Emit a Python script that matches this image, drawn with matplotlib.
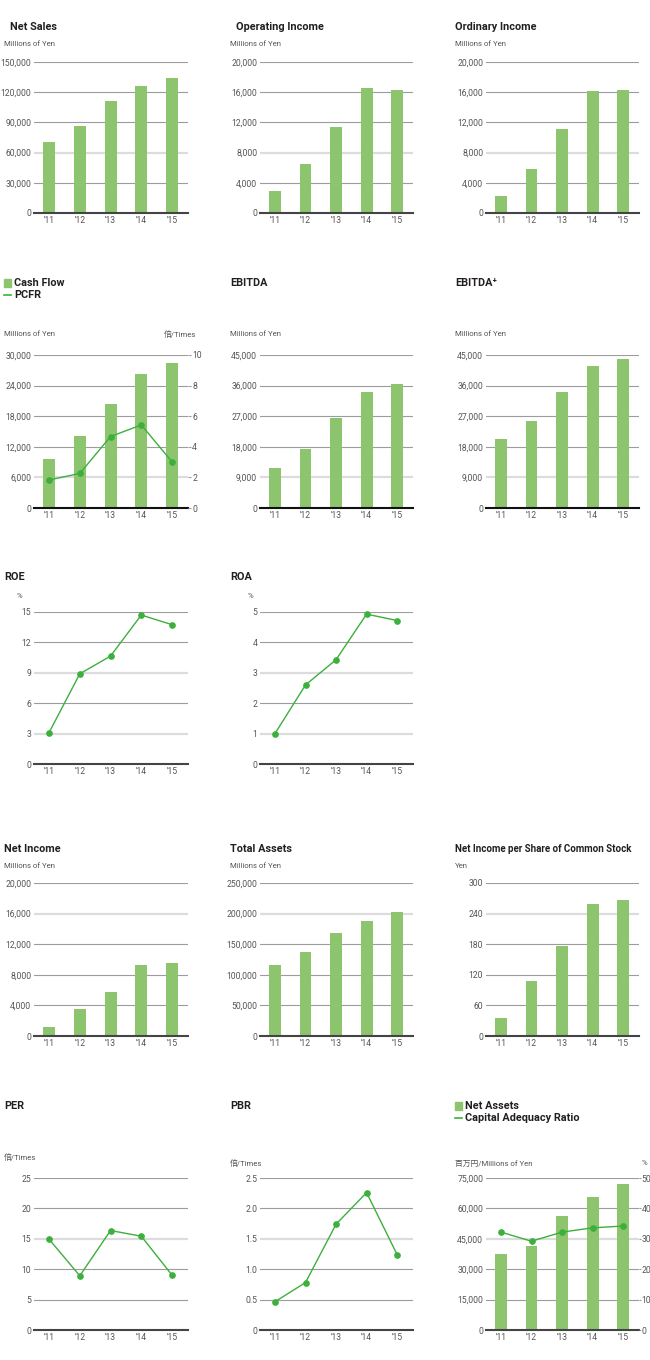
import matplotlib
matplotlib.use("Agg")
import matplotlib.pyplot as plt
from matplotlib.patches import Rectangle
from matplotlib.lines import Line2D

plt.rcParams['font.family'] = ['Roboto', 'Noto Sans CJK JP', 'DejaVu Sans']

# data
years = ["'11", "'12", "'13", "'14", "'15"]

net_sales = [71000, 86300, 111400, 126200, 134200]
operating_income = [2900, 6500, 11400, 16500, 16350]
ordinary_income = [2240, 5880, 11140, 16180, 16230]
cash_flow = [9600, 14150, 20350, 26300, 28500]
pcfr = [1.83, 2.26, 4.67, 5.43, 3.02]
ebitda = [11850, 17500, 26600, 34250, 36500]
ebitda_plus = [20150, 25650, 34250, 41850, 43800]
roe = [3.1, 8.9, 10.65, 14.7, 13.75]
roa = [1.0, 2.6, 3.43, 4.93, 4.72]
net_income = [1140, 3540, 5810, 9300, 9520]
total_assets = [115200, 137000, 168700, 188300, 203000]
eps = [34.7, 107.4, 175.5, 258.1, 266.6]
per = [14.93, 8.92, 16.36, 15.43, 9.03]
pbr = [0.465, 0.78, 1.74, 2.26, 1.24]
net_assets = [37400, 41350, 56100, 65500, 71900]
capital_ratio = [32.2, 29.2, 32.2, 33.6, 34.2]

BAR = '#8cc56d'
LINE = '#3daf3d'
GRID = '#9c9c9c'
LIGHT = '#dcdcdc'
TXT = '#555555'
DARK = '#231f20'
TICK_FS = 6.2
TITLE_FS = 7.8

W, H = 650, 1360
fig = plt.figure(figsize=(6.5, 13.6), dpi=100)

cols = [(34, 188), (260, 413), (486, 639)]
rows = [(62, 213), (355, 508), (612, 764), (883, 1036), (1178, 1330)]


def fmt(v, dec):
    if dec:
        return f"{v:.1f}"
    return f"{int(v):,}"


def make_ax(col, row, ticks, light, dec=False, base='#444444'):
    x0, x1 = cols[col]
    t, b = rows[row]
    ax = fig.add_axes([x0 / W, 1 - b / H, (x1 - x0) / W, (b - t) / H])
    ax.set_xlim(-0.49, 4.52)
    ax.set_ylim(0, ticks[-1])
    for v in ticks[1:]:
        if v in light:
            ax.axhline(v, color=LIGHT, lw=1.6, zorder=0)
        else:
            ax.axhline(v, color=GRID, lw=0.8, zorder=0)
    for s in ['top', 'left', 'right']:
        ax.spines[s].set_visible(False)
    ax.spines['bottom'].set_color(base)
    ax.spines['bottom'].set_linewidth(1.5)
    ax.set_yticks(ticks)
    ax.set_yticklabels([fmt(v, dec) for v in ticks])
    ax.set_xticks(range(len(years)))
    ax.set_xticklabels(years)
    ax.tick_params(axis='y', length=0, pad=2, labelsize=TICK_FS, labelcolor=TXT)
    ax.tick_params(axis='x', length=0, pad=2.5, labelsize=TICK_FS, labelcolor=TXT)
    ax.set_facecolor('none')
    return ax


def right_ax(ax, top, ticks):
    ax2 = ax.twinx()
    ax2.set_xlim(-0.49, 4.52)
    ax2.set_ylim(0, top)
    ax2.set_yticks(ticks)
    ax2.tick_params(axis='y', length=2, width=0.8, color=GRID, pad=1,
                    labelsize=TICK_FS, labelcolor=TXT)
    for s in ['top', 'left', 'right', 'bottom']:
        ax2.spines[s].set_visible(False)
    return ax2


def bars(ax, vals):
    ax.bar(range(len(vals)), vals, width=0.39, color=BAR, zorder=2)


def line(ax, vals):
    ax.plot(range(len(vals)), vals, color=LINE, lw=1.0, marker='o',
            markersize=3.8, zorder=3, clip_on=False)


def ftext(x, y, s, size=5.6, bold=False, ha='left', color=None):
    fig.text(x / W, 1 - y / H, s, fontsize=size,
             fontweight='bold' if bold else 'normal', ha=ha, va='center',
             color=color or (DARK if bold else TXT))


def legend(x, y, label1, label2):
    fig.patches.append(Rectangle((x / W, 1 - (y + 4) / H), 7 / W, 8 / H,
                                 transform=fig.transFigure, color=BAR))
    fig.lines.append(Line2D([x / W, (x + 7) / W], [1 - (y + 12) / H] * 2,
                            transform=fig.transFigure, color=LINE, lw=1.2))
    ftext(x + 10, y, label1, size=TITLE_FS, bold=True)
    ftext(x + 10, y + 12, label2, size=TITLE_FS, bold=True)


# row 1
ax = make_ax(0, 0, [0, 30000, 60000, 90000, 120000, 150000], [60000])
bars(ax, net_sales)
ftext(10, 27, 'Net Sales', size=TITLE_FS, bold=True)
ftext(4, 44, 'Millions of Yen')

ax = make_ax(1, 0, [0, 4000, 8000, 12000, 16000, 20000], [8000])
bars(ax, operating_income)
ftext(236, 27, 'Operating Income', size=TITLE_FS, bold=True)
ftext(230, 44, 'Millions of Yen')

ax = make_ax(2, 0, [0, 4000, 8000, 12000, 16000, 20000], [8000])
bars(ax, ordinary_income)
ftext(455, 27, 'Ordinary Income', size=TITLE_FS, bold=True)
ftext(455, 44, 'Millions of Yen')

# row 2
ax = make_ax(0, 1, [0, 6000, 12000, 18000, 24000, 30000], [6000], base='#111111')
bars(ax, cash_flow)
ax2 = right_ax(ax, 10, [0, 2, 4, 6, 8, 10])
line(ax2, pcfr)
legend(4, 283, 'Cash Flow', 'PCFR')
ftext(4, 334, 'Millions of Yen')
ftext(196, 334, '倍/Times', ha='right')

ax = make_ax(1, 1, [0, 9000, 18000, 27000, 36000, 45000], [9000], base='#111111')
bars(ax, ebitda)
ftext(230, 283, 'EBITDA', size=TITLE_FS, bold=True)
ftext(230, 334, 'Millions of Yen')

ax = make_ax(2, 1, [0, 9000, 18000, 27000, 36000, 45000], [9000], base='#111111')
bars(ax, ebitda_plus)
ftext(455, 283, 'EBITDA⁺', size=TITLE_FS, bold=True)
ftext(455, 334, 'Millions of Yen')

# row 3
ax = make_ax(0, 2, [0, 3, 6, 9, 12, 15], [3, 9])
line(ax, roe)
ftext(4, 577, 'ROE', size=TITLE_FS, bold=True)
ftext(17, 596, '%')

ax = make_ax(1, 2, [0, 1, 2, 3, 4, 5], [1, 3])
line(ax, roa)
ftext(230, 577, 'ROA', size=TITLE_FS, bold=True)
ftext(248, 596, '%')

# row 4
ax = make_ax(0, 3, [0, 4000, 8000, 12000, 16000, 20000], [16000])
bars(ax, net_income)
ftext(4, 849, 'Net Income', size=TITLE_FS, bold=True)
ftext(4, 866, 'Millions of Yen')

ax = make_ax(1, 3, [0, 50000, 100000, 150000, 200000, 250000], [200000])
bars(ax, total_assets)
ftext(230, 849, 'Total Assets', size=TITLE_FS, bold=True)
ftext(230, 866, 'Millions of Yen')

ax = make_ax(2, 3, [0, 60, 120, 180, 240, 300], [240])
bars(ax, eps)
ftext(455, 849, 'Net Income per Share of Common Stock', size=7.0, bold=True)
ftext(455, 866, 'Yen')

# row 5
ax = make_ax(0, 4, [0, 5, 10, 15, 20, 25], [15])
line(ax, per)
ftext(4, 1106, 'PER', size=TITLE_FS, bold=True)
ftext(4, 1157, '倍/Times')

ax = make_ax(1, 4, [0, 0.5, 1.0, 1.5, 2.0, 2.5], [1.5], dec=True)
ax.set_yticklabels(['0', '0.5', '1.0', '1.5', '2.0', '2.5'])
line(ax, pbr)
ftext(230, 1106, 'PBR', size=TITLE_FS, bold=True)
ftext(230, 1163, '倍/Times')

ax = make_ax(2, 4, [0, 15000, 30000, 45000, 60000, 75000], [45000])
bars(ax, net_assets)
ax2 = right_ax(ax, 50, [0, 10, 20, 30, 40, 50])
ax2.tick_params(axis='y', length=1.5, pad=0.5)
line(ax2, capital_ratio)
legend(455, 1106, 'Net Assets', 'Capital Adequacy Ratio')
ftext(455, 1163, '百万円/Millions of Yen')
ftext(647, 1163, '%', ha='right')

fig.savefig('out.png', dpi=100, facecolor='white')
